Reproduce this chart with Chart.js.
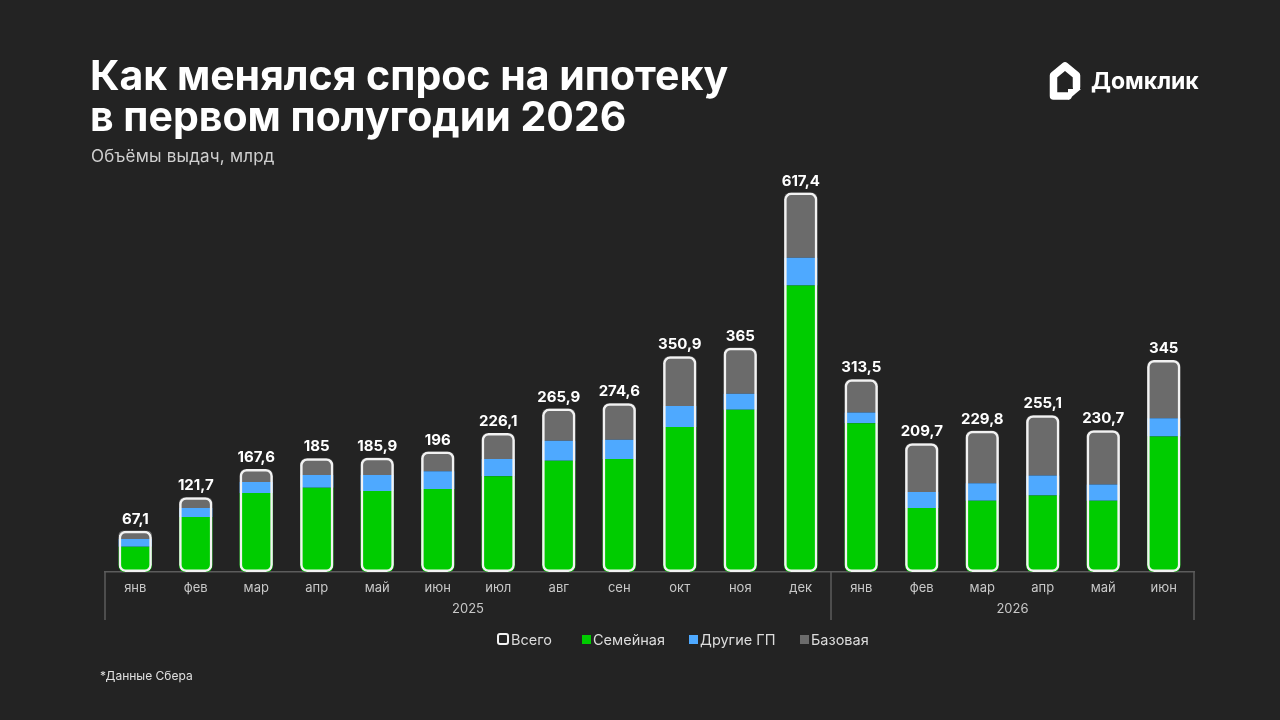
<!DOCTYPE html>
<html lang="ru">
<head>
<meta charset="utf-8">
<script src="https://cdn.jsdelivr.net/npm/chart.js@4.4.1/dist/chart.umd.min.js"></script>
<style>
  html, body { margin:0; padding:0; background:#232323; width:1280px; height:720px; overflow:hidden; font-family: Inter, "Noto Sans", sans-serif; }
  #title { position:absolute; left:90px; top:55px; color:#fff; font-weight:700; font-size:41px; line-height:41px; letter-spacing:0; margin:0; }
  #subtitle { position:absolute; left:91px; top:146px; color:#cfcfcf; font-size:17px; line-height:20px; letter-spacing:0.2px; }
  #foot { position:absolute; left:100px; top:668px; color:#e0e0e0; font-size:12px; }
  #logo { position:absolute; left:1045px; top:60px; display:flex; align-items:center; }
  #logo span { color:#fff; font-weight:700; font-size:23px; margin-left:6px; letter-spacing:0; }
  #wrap { position:absolute; left:0; top:0; width:1280px; height:720px; }
  #legend { position:absolute; left:497px; top:629px; height:20px; display:flex; align-items:center; color:#dcdcdc; font-size:14.5px; }
  #legend .item { display:flex; align-items:center; white-space:nowrap; }
  #legend .box { width:9px; height:9px; margin-right:2px; box-sizing:border-box; }
</style>
</head>
<body>
<div id="wrap"><canvas id="c"></canvas></div>
<h1 id="title">Как менялся спрос на ипотеку<br>в первом полугодии 2026</h1>
<div id="subtitle">Объёмы выдач, млрд</div>
<div id="logo">
  <svg width="40" height="42" viewBox="0 0 40 42">
    <path d="M23 36 H8.5 V15.5 L20 6 L31.5 15.5 V27" fill="none" stroke="#fff" stroke-width="7.5" stroke-linejoin="round" stroke-linecap="round"/>
    <path d="M23 40 L23 29 L36 29 Z" fill="#fff"/>
  </svg>
  <span>Домклик</span>
</div>
<div id="legend"></div>
<div id="foot">*Данные Сбера</div>
<script>
const months = ['янв','фев','мар','апр','май','июн','июл','авг','сен','окт','ноя','дек','янв','фев','мар','апр','май','июн'];
const years = [{label:'2025', from:0, to:11}, {label:'2026', from:12, to:17}];
const totals = [67.1,121.7,167.6,185,185.9,196,226.1,265.9,274.6,350.9,365,617.4,313.5,209.7,229.8,255.1,230.7,345];
const family = [41,89.5,128.5,137,132,135,156,181,184,236,264,466,242,104,116,124.5,116,220.5];
const otherGP = [12.5,14.5,18,21,26,29,28,32.5,31,34,26,45.5,17.5,26,28.5,32.5,26.5,29.5];
const base = [13.6,17.7,21.1,27,27.9,32,42.1,52.4,59.6,80.9,75,105.9,54,79.7,85.3,98.1,88.2,95];

const C_GREEN = '#00cc00', C_BLUE = '#4ea9ff', C_GRAY = '#6b6b6b', C_WHITE = '#f2f2f2';

const yearPlugin = {
  id: 'yearGroups',
  afterDraw(chart) {
    const x = chart.scales.x, ctx = chart.ctx, ca = chart.chartArea;
    const step = x.getPixelForValue(1) - x.getPixelForValue(0);
    const y0 = ca.bottom, y1 = ca.bottom + 48;
    ctx.save();
    ctx.strokeStyle = '#5c5c5c';
    ctx.lineWidth = 1.5;
    const bounds = [x.getPixelForValue(0) - step/2];
    years.forEach(g => bounds.push(x.getPixelForValue(g.to) + step/2));
    bounds.forEach(b => { ctx.beginPath(); ctx.moveTo(b, y0); ctx.lineTo(b, y1); ctx.stroke(); });
    ctx.fillStyle = '#c8c8c8';
    ctx.font = '13px Inter, sans-serif';
    ctx.textAlign = 'center';
    ctx.textBaseline = 'middle';
    years.forEach(g => {
      const cx = (x.getPixelForValue(g.from) + x.getPixelForValue(g.to)) / 2;
      ctx.fillText(g.label, cx, y0 + 37);
    });
    ctx.restore();
  }
};

const labelPlugin = {
  id: 'totalLabels',
  afterDatasetsDraw(chart) {
    const meta = chart.getDatasetMeta(0), ctx = chart.ctx;
    ctx.save();
    ctx.fillStyle = '#ffffff';
    ctx.font = '700 15px Inter, sans-serif';
    ctx.textAlign = 'center';
    ctx.textBaseline = 'bottom';
    meta.data.forEach((bar, i) => {
      ctx.fillText(String(totals[i]).replace('.', ','), bar.x, bar.y - 4);
    });
    ctx.restore();
  }
};

const chart = new Chart(document.getElementById('c'), {
  type: 'bar',
  data: {
    labels: months,
    datasets: [
      { label:'Всего', data: totals, backgroundColor:'rgba(0,0,0,0)', borderColor:C_WHITE, borderWidth:2.5, borderRadius:7, borderSkipped:false, stack:'total', grouped:false },
      { label:'Семейная', data: family, backgroundColor:C_GREEN, borderWidth:0, borderRadius:{bottomLeft:6,bottomRight:6,topLeft:0,topRight:0}, borderSkipped:false, stack:'parts', grouped:false },
      { label:'Другие ГП', data: otherGP, backgroundColor:C_BLUE, borderWidth:0, borderRadius:0, borderSkipped:false, stack:'parts', grouped:false },
      { label:'Базовая', data: base, backgroundColor:C_GRAY, borderWidth:0, borderRadius:{topLeft:6,topRight:6,bottomLeft:0,bottomRight:0}, borderSkipped:false, stack:'parts', grouped:false }
    ]
  },
  options: {
    responsive: true,
    maintainAspectRatio: false,
    animation: false,
    barPercentage: 0.55,
    categoryPercentage: 1,
    layout: { padding: { left:105, right:86, top:175, bottom:106 } },
    scales: {
      x: {
        stacked: false,
        grid: { display:false, drawTicks:false },
        border: { display:true, color:'#5c5c5c', width:1.5 },
        ticks: { color:'#c8c8c8', font:{ size:13, family:'Inter' }, padding:8, maxRotation:0, autoSkip:false },
        afterFit(scale) { scale.height = 42; }
      },
      y: { stacked:true, display:false, min:0, max:646 }
    },
    plugins: {
      legend: { display:false },
      tooltip: { enabled:false }
    }
  },
  plugins: [yearPlugin, labelPlugin]
});

// HTML legend built from the chart's datasets
const legendItemWidths = [85, 107, 111, 80];
const lg = document.getElementById('legend');
chart.data.datasets.forEach((ds, i) => {
  const item = document.createElement('div');
  item.className = 'item';
  item.style.width = legendItemWidths[i] + 'px';
  const box = document.createElement('span');
  box.className = 'box';
  if (ds.stack === 'total') {
    box.style.width = '12px'; box.style.height = '12px';
    box.style.border = '2.5px solid ' + ds.borderColor;
    box.style.borderRadius = '3px';
  } else {
    box.style.background = ds.backgroundColor;
  }
  const t = document.createElement('span');
  t.textContent = ds.label;
  item.appendChild(box); item.appendChild(t);
  lg.appendChild(item);
});
</script>
</body>
</html>
